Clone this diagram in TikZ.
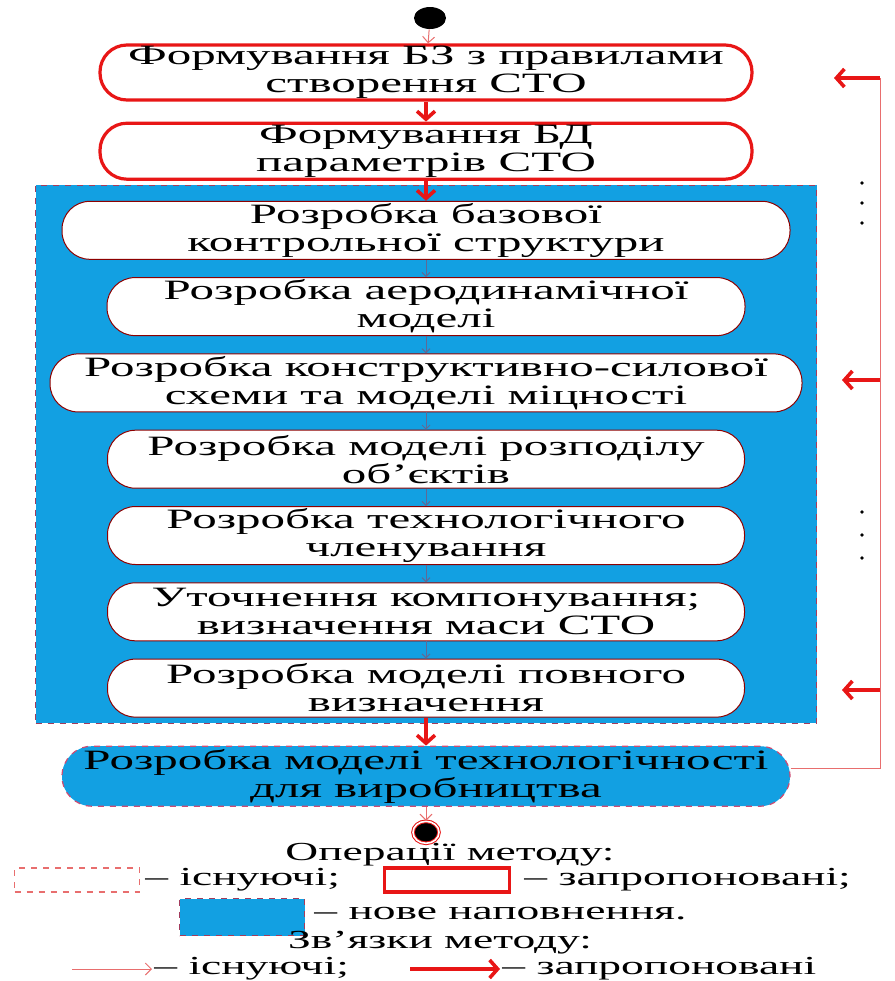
\documentclass[tikz,border=0pt]{standalone}
\usepackage{fontspec}
\setmainfont{Liberation Serif}[FakeStretch=1.75]
\usetikzlibrary{shapes.geometric, arrows.meta, positioning, fit, backgrounds}
\definecolor{fillblue}{RGB}{18,160,226}
\definecolor{edgered}{RGB}{232,22,22}
\definecolor{thinred}{RGB}{232,110,110}
\definecolor{linkgrey}{RGB}{95,105,150}
\definecolor{dashpink}{RGB}{205,75,115}

\begin{document}
\begin{tikzpicture}[
        x=0.5pt, y=-0.5pt,
        node distance=8.65pt,
        font=\fontsize{14}{14}\selectfont,
        newop/.style={rectangle, rounded corners=13.5pt, draw=edgered, line width=1.6pt, fill=white, align=center, minimum width=326pt, minimum height=27.5pt, inner sep=0pt},
        op/.style={rectangle, rounded corners=14pt, draw=red!55!black, line width=0.5pt, fill=white, align=center, minimum height=29pt, inner sep=0pt},
        fillop/.style={rectangle, rounded corners=15pt, draw=dashpink, dashed, line width=0.6pt, fill=fillblue, align=center, minimum height=30pt, inner sep=0pt},
        region/.style={rectangle, draw=dashpink!80!black, dashed, line width=0.6pt, fill=fillblue},
        legtext/.style={font=\fontsize{13}{13}\selectfont, inner ysep=1pt},
        strong/.style={-{Straight Barb[length=4pt, width=9pt]}, line width=1.8pt, draw=edgered},
        weak/.style={-{Straight Barb[length=3pt, width=6pt]}, line width=0.5pt, draw=thinred},
        inner/.style={-{Straight Barb[length=2pt, width=4pt]}, line width=0.5pt, draw=linkgrey},
        feed/.style={line width=0.5pt, draw=thinred}
    ]
        \useasboundingbox (0,0) rectangle (895,981);

        % main column
        \node[ellipse, fill=black, minimum width=16pt, minimum height=11pt, inner sep=0pt] (start) at (430,18) {};
        \node[newop] (kb) at (426,72.5) {Формування БЗ з правилами\\створення СТО};
        \node[newop, below=10pt of kb, minimum height=28pt] (db) {Формування БД\\параметрів СТО};
        \node[op, below=10pt of db, minimum width=364pt] (base) {Розробка базової\\контрольної структури};
        \node[op, below=of base, minimum width=319pt] (aero) {Розробка аеродинамічної\\моделі};
        \node[op, below=of aero, minimum width=376pt] (frame) {Розробка конструктивно-силової\\схеми та моделі міцності};
        \node[op, below=of frame, minimum width=318.5pt] (distr) {Розробка моделі розподілу\\об’єктів};
        \node[op, below=of distr, minimum width=318.5pt] (split) {Розробка технологічного\\членування};
        \node[op, below=of split, minimum width=318.5pt] (mass) {Уточнення компонування;\\визначення маси СТО};
        \node[op, below=of mass, minimum width=318.5pt] (full) {Розробка моделі повного\\визначення};
        \node[fillop, below=14pt of full, minimum width=364pt] (manuf) {Розробка моделі технологічності\\для виробництва};
        \node[ellipse, fill=black, draw=edgered, double=white, double distance=0.8pt, line width=0.5pt, minimum width=13pt, minimum height=11pt, inner sep=0pt, below=7pt of manuf] (finish) {};

        \begin{scope}[on background layer]
            \node[region, fit=(base)(frame)(full), inner xsep=7pt, inner ysep=5.25pt, yshift=2.5pt] (blk) {};
        \end{scope}

        \draw[weak] (start) -- (kb);
        \draw[strong] (kb) -- (db);
        \draw[strong] (db) -- (base);
        \draw[inner] (base) -- (aero);
        \draw[inner] (aero) -- (frame);
        \draw[inner] (frame) -- (distr);
        \draw[inner] (distr) -- (split);
        \draw[inner] (split) -- (mass);
        \draw[inner] (mass) -- (full);
        \draw[strong] (full) -- (manuf);
        \draw[weak] (manuf) -- (finish);

        % feedback on the right
        \coordinate (fbfoot) at (880,768);
        \coordinate (fbtop) at (880,78);
        \coordinate (fbmid) at (880,380);
        \coordinate (fblow) at (880,690);
        \coordinate (tiptop) at (834,78);
        \coordinate (tipmid) at (842,380);
        \coordinate (tiplow) at (842,690);
        \draw[feed] (manuf.east |- fbfoot) -- (fbfoot) -- (fbtop);
        \draw[strong] (fbtop) -- (tiptop);
        \draw[strong] (fbmid) -- (tipmid);
        \draw[strong] (fblow) -- (tiplow);
        \foreach \y in {183,203,223,512,535,558}
            \fill (862,\y) circle (1.8);

        % legend
        \node[legtext] (ophead) at (450,855) {Операції методу:};
        \node[draw=thinred, dashed, line width=0.6pt, minimum width=62.5pt, minimum height=12pt] (lgold) at (77,880) {};
        \node[legtext, anchor=west, inner xsep=1pt] (lgoldtxt) at (143,880) {– існуючі;};
        \node[draw=edgered, line width=1.6pt, minimum width=62.5pt, minimum height=12pt] (lgnew) at (447,880) {};
        \node[legtext, anchor=west, inner xsep=1pt] (lgnewtxt) at (522,880) {– запропоновані;};
        \node[region, minimum width=62.5pt, minimum height=18.5pt] (lgfill) at (242,917) {};
        \node[legtext, anchor=west, inner xsep=1pt] (lgfilltxt) at (312,914) {– нове наповнення.};
        \node[legtext] (linkhead) at (440,943) {Зв’язки методу:};
        \coordinate (lgweak) at (72,969);
        \node[legtext, anchor=west, inner xsep=1pt] (lgweaktxt) at (152,969) {– існуючі;};
        \coordinate (lgstrong) at (410,969);
        \node[legtext, anchor=west, inner xsep=1pt] (lgstrongtxt) at (500,969) {– запропоновані};
        \draw[weak] (lgweak) -- (lgweaktxt.west);
        \draw[strong] (lgstrong) -- (lgstrongtxt.west);
    \end{tikzpicture}
\end{document}
